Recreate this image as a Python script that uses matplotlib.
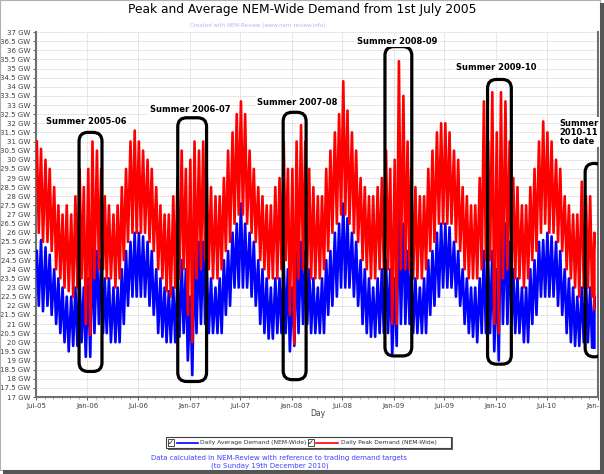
import matplotlib
matplotlib.use("Agg")
import matplotlib.pyplot as plt
import matplotlib.dates as mdates
import numpy as np
import pandas as pd
from matplotlib.patches import FancyBboxPatch, Rectangle

W, H = 604, 474

# half-monthly readings (1st half, 2nd half of each month)
# weekday highs / weekend lows, GW. rows: Jul-Dec then Jan-Jun
peak_hi = [
    31.0, 30.6, 30.0, 29.5, 28.5, 27.5, 27.0, 27.5, 27.0, 28.0, 29.5, 28.5,  # 2005 H2
    29.5, 31.0, 30.5, 29.5, 28.0, 27.5, 27.0, 27.5, 28.5, 29.5, 31.0, 31.6,  # 2006 H1
    31.0, 30.5, 30.0, 29.5, 28.5, 27.5, 27.0, 27.0, 28.0, 29.0, 30.5, 29.5,  # 2006 H2
    30.0, 31.0, 30.5, 31.0, 29.0, 28.5, 28.0, 28.0, 29.0, 30.5, 31.5, 32.5,  # 2007 H1
    33.2, 32.5, 30.5, 29.5, 28.5, 28.0, 27.5, 27.5, 28.5, 29.0, 31.0, 29.5,  # 2007 H2
    29.5, 31.0, 31.9, 31.0, 29.5, 28.5, 28.0, 28.0, 29.5, 30.5, 31.5, 32.5,  # 2008 H1
    34.3, 32.7, 31.5, 30.5, 29.0, 28.5, 28.0, 28.0, 28.5, 29.0, 30.5, 29.5,  # 2008 H2
    30.0, 35.4, 33.5, 31.0, 29.5, 28.5, 28.0, 28.0, 29.5, 30.5, 31.5, 32.0,  # 2009 H1
    32.0, 31.5, 30.5, 30.0, 28.5, 28.0, 27.5, 27.5, 29.0, 33.2, 31.0, 33.7,  # 2009 H2
    31.5, 33.7, 33.2, 31.0, 29.0, 28.5, 27.5, 27.5, 28.5, 29.5, 31.0, 32.1,  # 2010 H1
    31.5, 31.0, 30.0, 29.5, 28.0, 27.5, 27.0, 27.0, 28.8, 28.0, 28.0, 26.0,  # 2010 H2
]
peak_lo = [
    26.0, 25.5, 25.5, 25.0, 24.0, 23.5, 23.0, 22.8, 22.5, 23.0, 23.5, 21.0,
    20.4, 23.5, 24.0, 24.0, 23.5, 23.5, 23.0, 23.5, 24.5, 25.5, 26.0, 26.0,
    26.0, 26.0, 25.5, 25.0, 24.0, 23.5, 22.8, 22.5, 23.0, 23.5, 24.0, 21.5,
    20.0, 23.5, 24.0, 24.5, 24.0, 23.5, 23.5, 24.0, 25.0, 25.5, 26.5, 27.0,
    27.0, 26.5, 26.0, 25.5, 24.5, 24.0, 23.5, 23.5, 23.5, 24.0, 24.5, 21.5,
    19.9, 23.5, 24.0, 24.0, 23.5, 23.5, 23.5, 24.0, 25.0, 26.0, 26.5, 27.0,
    27.0, 26.5, 26.0, 25.5, 24.5, 24.0, 23.5, 23.5, 24.0, 24.0, 24.0, 21.0,
    21.0, 24.0, 24.0, 24.0, 23.5, 23.5, 23.5, 24.0, 25.0, 25.5, 26.5, 26.5,
    26.5, 26.5, 25.5, 25.0, 24.0, 23.5, 23.5, 23.5, 24.0, 24.5, 24.5, 21.0,
    20.5, 23.5, 24.0, 24.0, 23.5, 23.5, 23.0, 23.5, 24.5, 25.0, 26.0, 26.5,
    26.0, 26.0, 25.5, 25.0, 24.0, 23.5, 23.0, 22.5, 23.0, 23.0, 22.5, 21.8,
]
avg_hi = [
    25.0, 25.6, 25.2, 24.8, 24.0, 23.5, 23.0, 22.5, 22.5, 23.0, 23.5, 23.0,
    23.5, 25.6, 25.0, 24.5, 23.5, 23.5, 23.0, 23.0, 24.0, 25.0, 25.5, 26.0,
    26.0, 25.8, 25.5, 25.0, 24.0, 23.5, 23.0, 22.8, 23.0, 23.5, 24.5, 24.0,
    22.5, 25.0, 25.5, 25.5, 24.0, 23.5, 23.0, 23.5, 24.5, 25.0, 26.0, 26.5,
    27.6, 26.5, 26.0, 25.5, 24.5, 24.0, 23.5, 23.0, 23.5, 23.5, 24.5, 24.0,
    23.0, 25.0, 25.5, 25.0, 24.0, 23.5, 23.0, 23.5, 24.5, 25.0, 26.0, 26.5,
    27.6, 26.8, 26.0, 25.5, 24.5, 24.0, 23.5, 23.0, 23.5, 24.0, 24.5, 24.0,
    23.5, 28.0, 26.5, 25.0, 24.0, 23.5, 23.0, 23.5, 24.5, 25.0, 26.0, 26.5,
    26.5, 26.3, 25.5, 25.0, 24.0, 23.5, 23.0, 23.0, 23.5, 25.0, 24.5, 25.0,
    24.0, 27.4, 26.5, 25.5, 24.0, 23.5, 23.0, 23.0, 24.0, 24.5, 25.5, 25.6,
    26.0, 25.8, 25.5, 25.0, 24.0, 23.5, 23.0, 22.5, 23.0, 23.5, 23.0, 22.5,
]
avg_lo = [
    22.0, 21.7, 22.0, 21.5, 21.0, 20.5, 20.0, 19.5, 19.8, 19.8, 20.0, 19.2,
    19.2, 20.5, 21.0, 20.5, 20.5, 20.0, 20.0, 20.0, 21.0, 22.0, 22.5, 22.5,
    22.5, 22.5, 22.0, 21.5, 20.5, 20.3, 20.0, 20.0, 20.0, 20.3, 20.5, 19.0,
    18.2, 20.5, 21.0, 21.0, 20.5, 20.5, 20.5, 20.5, 21.5, 22.0, 23.0, 23.0,
    23.0, 23.0, 22.5, 22.0, 21.0, 20.5, 20.2, 20.2, 20.5, 20.5, 20.5, 19.5,
    19.8, 20.5, 21.0, 21.0, 20.5, 20.5, 20.5, 20.5, 21.5, 22.0, 22.5, 23.0,
    23.0, 23.0, 22.5, 22.0, 21.0, 20.5, 20.3, 20.3, 20.5, 20.5, 20.5, 19.3,
    19.8, 21.0, 21.0, 21.0, 20.5, 20.5, 20.5, 20.5, 21.5, 22.0, 22.5, 23.0,
    23.0, 23.0, 22.5, 22.0, 21.0, 20.5, 20.3, 20.0, 20.5, 20.5, 20.5, 19.5,
    19.0, 21.0, 21.0, 21.0, 20.5, 20.5, 20.0, 20.0, 21.0, 21.5, 22.5, 22.5,
    22.5, 22.5, 22.0, 21.5, 20.5, 20.0, 19.8, 19.8, 20.0, 20.0, 19.7, 19.7,
]

first_day = pd.Timestamp("2005-07-01")
last_day = pd.Timestamp("2010-12-19")

summers = ["Summer 2005-06", "Summer 2006-07", "Summer 2007-08",
           "Summer 2008-09", "Summer 2009-10", "Summer\n2010-11\nto date"]

# half-month start dates
starts = []
for m in pd.date_range(first_day, "2010-12-01", freq="MS"):
    starts += [m, m + pd.Timedelta(days=15)]


def zigzag(hi, lo):
    xs, ys = [], []
    for s, h, l in zip(starts, hi, lo):
        xs += [s + pd.Timedelta(days=3), min(s + pd.Timedelta(days=10), last_day)]
        ys += [h, l]
    return xs, ys


def fx(px):
    return px / W


def fy(py):
    return 1 - py / H


fig = plt.figure(figsize=(W / 100, H / 100), dpi=100)
ax = fig.add_axes([fx(36), fy(397), fx(598) - fx(36), fy(32) - fy(397)])

xa, ya = zigzag(avg_hi, avg_lo)
xp, yp = zigzag(peak_hi, peak_lo)
ax.plot(xa, ya, color="#0000ff", lw=1.9, zorder=3)
ax.plot(xp, yp, color="#ff0000", lw=1.9, zorder=4)

ax.set_xlim(first_day, pd.Timestamp("2011-01-01"))
ax.set_ylim(17, 37)

yt = np.arange(17, 37.01, 0.5)
ax.set_yticks(yt)
ax.set_yticklabels([f"{v:g} GW" for v in yt])
ax.xaxis.set_major_locator(mdates.MonthLocator(bymonth=[1, 7]))
ax.xaxis.set_major_formatter(mdates.DateFormatter("%b-%y"))
ax.xaxis.set_minor_locator(mdates.MonthLocator())
ax.tick_params(axis="both", labelsize=5, colors="#404040", length=2, width=0.6, pad=2)
ax.tick_params(axis="x", which="minor", length=1.5, width=0.5, colors="#808080")
ax.grid(True, which="major", color="#c8c8c8", lw=0.6, ls=(0, (1, 1)))
ax.set_axisbelow(True)
ax.spines["top"].set_visible(False)
for side in ["left", "bottom", "right"]:
    ax.spines[side].set_color("#707070")
    ax.spines[side].set_linewidth(1.5)

# summer boxes
days_per_px = 2010 / 562
gw_per_px = 20 / 365
boxes = [("2005-12-02", "2006-02-22", 18.4, 31.5),
         ("2006-11-20", "2007-03-03", 17.85, 32.3),
         ("2007-12-02", "2008-02-22", 17.95, 32.6),
         ("2008-11-30", "2009-03-06", 19.25, 36.2),
         ("2009-12-02", "2010-02-25", 18.8, 34.4),
         ("2010-11-16", "2011-01-20", 19.2, 29.8)]
for x0, x1, y0, y1 in boxes:
    a = mdates.date2num(pd.Timestamp(x0))
    b = mdates.date2num(pd.Timestamp(x1))
    ax.add_patch(FancyBboxPatch((a, y0), b - a, y1 - y0,
                                boxstyle=f"round,pad=0,rounding_size={9 * days_per_px}",
                                mutation_aspect=gw_per_px / days_per_px,
                                fc="none", ec="black", lw=2.3, zorder=5))

label_pos = [("2005-12-27", 32.07), ("2007-01-02", 32.73), ("2008-01-20", 33.16),
             ("2009-01-12", 36.5), ("2010-01-03", 35.08)]
for txt, (d, v) in zip(summers[:5], label_pos):
    ax.text(pd.Timestamp(d), v, txt, ha="center", va="center", fontsize=6,
            fontweight="bold", color="black", zorder=6,
            bbox=dict(fc="white", ec="none", pad=0.8))
ax.text(pd.Timestamp("2010-08-17"), 31.5, summers[5], ha="left", va="center",
        fontsize=6, fontweight="bold", color="black", zorder=6, linespacing=1.05,
        bbox=dict(fc="white", ec="none", pad=0.8))

# titles
fig.text(0.5, fy(9), "Peak and Average NEM-Wide Demand from 1st July 2005",
         ha="center", va="center", fontsize=8.8, color="black")
fig.text(fx(258), fy(25), "Created with NEM-Review (www.nem-review.info)",
         ha="center", va="center", fontsize=4, color="#b4b4ff")
fig.text(fx(318), fy(414), "Day", ha="center", va="center", fontsize=5.5, color="#404040")

# legend box
fig.patches.append(Rectangle((fx(168), fy(450)), fx(453) - fx(168), fy(437) - fy(450),
                             transform=fig.transFigure, fc="#606060", ec="none"))
fig.patches.append(Rectangle((fx(166), fy(448)), fx(451) - fx(166), fy(437) - fy(448),
                             transform=fig.transFigure, fc="white", ec="#404040", lw=0.8))
for cx, col, lx0, lx1, tx, lab in [
        (168, "#0000ff", 177, 198, 200, "Daily Average Demand (NEM-Wide)"),
        (308, "#ff0000", 316, 338, 341, "Daily Peak Demand (NEM-Wide)")]:
    fig.patches.append(Rectangle((fx(cx), fy(446)), fx(6), fy(439) - fy(446),
                                 transform=fig.transFigure, fc="white", ec="#303030", lw=0.6))
    fig.text(fx(cx + 3), fy(442.5), "\u2713", ha="center", va="center", fontsize=5,
             color="black", fontweight="bold")
    fig.lines.append(plt.Line2D([fx(lx0), fx(lx1)], [fy(442.5), fy(442.5)],
                                transform=fig.transFigure, color=col, lw=1.2))
    fig.text(fx(tx), fy(442.5), lab, ha="left", va="center", fontsize=4.3, color="#303030")

fig.text(fx(279), fy(458), "Data calculated in NEM-Review with reference to trading demand targets",
         ha="center", va="center", fontsize=5, color="#4040ff")
fig.text(fx(270), fy(466), "(to Sunday 19th December 2010)",
         ha="center", va="center", fontsize=5, color="#4040ff")

# outer frame with drop shadow
fig.patches.append(Rectangle((0, fy(470)), fx(600), fy(0) - fy(470),
                             transform=fig.transFigure, fc="none", ec="#b0b0b0", lw=0.8))
fig.patches.append(Rectangle((fx(600), 0), fx(4), fy(3),
                             transform=fig.transFigure, fc="#555555", ec="none"))
fig.patches.append(Rectangle((fx(3), 0), fx(601), fy(470),
                             transform=fig.transFigure, fc="#555555", ec="none"))

fig.savefig("out.png", dpi=100)
